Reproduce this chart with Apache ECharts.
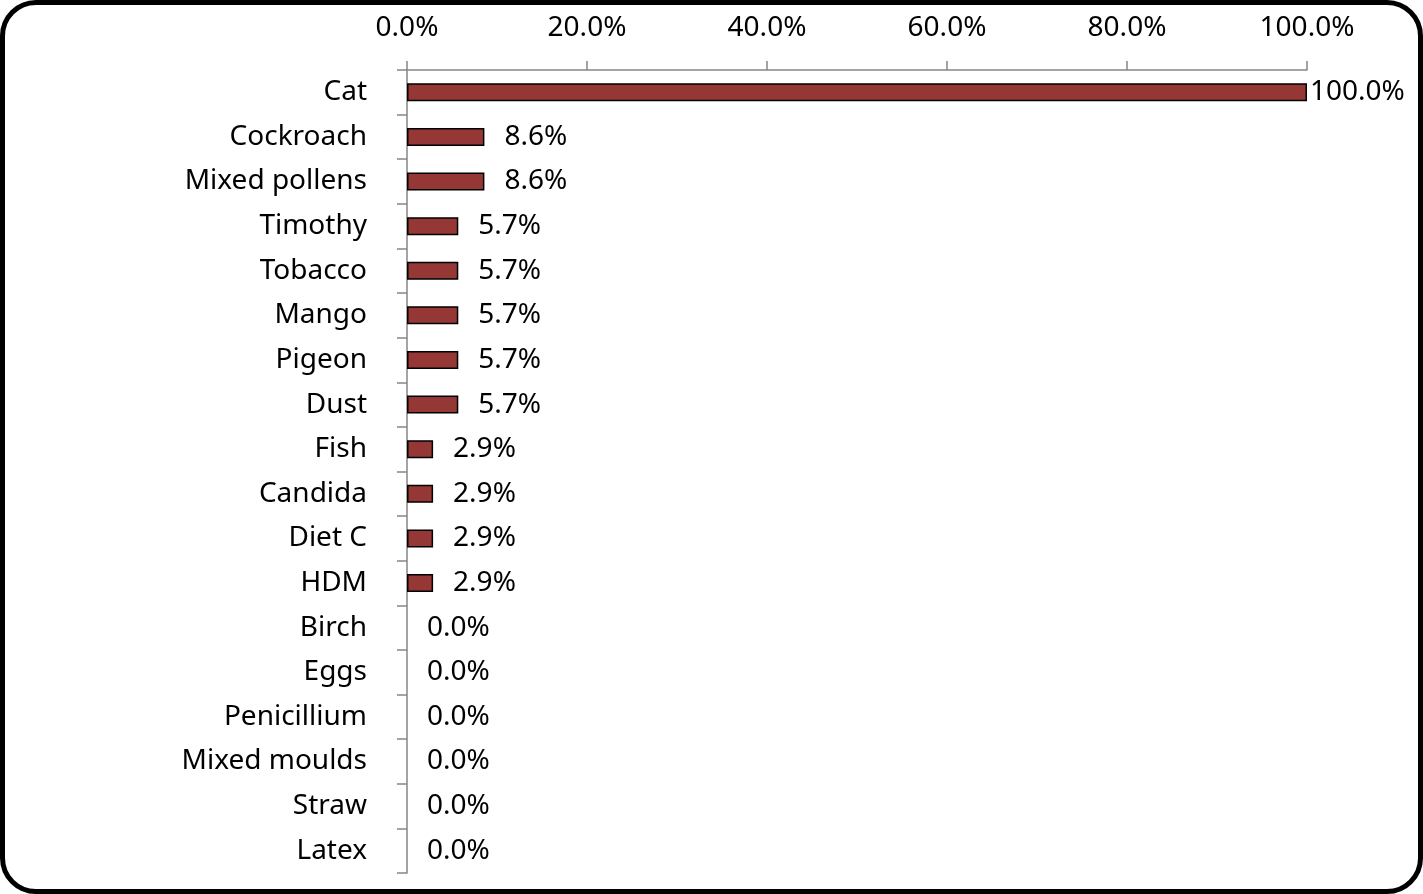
<!DOCTYPE html>
<html>
<head>
<meta charset="utf-8">
<script src="https://cdn.jsdelivr.net/npm/echarts@6/dist/echarts.min.js"></script>
<style>
  html, body { margin: 0; padding: 0; background: #fff; }
  #chart { width: 1423px; height: 894px; position: relative; }
  #frame {
    position: absolute; left: 0; top: 0; width: 1423px; height: 894px;
    box-sizing: border-box; border: 5px solid #000; border-radius: 36px;
    pointer-events: none;
  }
</style>
</head>
<body>
<div id="chart"></div>
<div id="frame"></div>
<script>
  // allergens, top to bottom
  const categories = ['Cat', 'Cockroach', 'Mixed pollens', 'Timothy', 'Tobacco', 'Mango', 'Pigeon', 'Dust',
    'Fish', 'Candida', 'Diet C', 'HDM', 'Birch', 'Eggs', 'Penicillium', 'Mixed moulds', 'Straw', 'Latex'];
  // percent positive
  const values = [100.0, 8.6, 8.6, 5.7, 5.7, 5.7, 5.7, 5.7, 2.9, 2.9, 2.9, 2.9, 0, 0, 0, 0, 0, 0];
  const tickLabels = ['0.0%', '20.0%', '40.0%', '60.0%', '80.0%', '100.0%'];

  const font = 'Noto Sans';
  const fs = 28;
  const myChart = echarts.init(document.getElementById('chart'));
  myChart.setOption({
    animation: false,
    grid: {left: 407, top: 70, width: 900, height: 803, containLabel: false},
    xAxis: {
      type: 'value',
      position: 'top',
      min: 0, max: 100, interval: 20,
      axisLine: {show: true, lineStyle: {color: '#868686', width: 1.5}},
      axisTick: {show: true, length: 9, lineStyle: {color: '#868686', width: 1.5}},
      splitLine: {show: false},
      axisLabel: {
        margin: 28, color: '#000', fontSize: fs, fontFamily: font,
        formatter: v => tickLabels[Math.round(v / 20)]
      }
    },
    yAxis: {
      type: 'category',
      inverse: true,
      data: categories,
      axisLine: {show: true, lineStyle: {color: '#868686', width: 1.5}},
      axisTick: {show: true, length: 10, lineStyle: {color: '#868686', width: 1.5}},
      axisLabel: {margin: 40, color: '#000', fontSize: fs, fontFamily: font}
    },
    series: [{
      type: 'bar',
      barWidth: 18,
      data: values.map((v, i) => {
        if (i === 0) return {value: v, label: {distance: 3}};
        if (v === 0) return {value: v, itemStyle: {borderWidth: 0}};
        return v;
      }),
      itemStyle: {color: '#953735', borderColor: '#000', borderWidth: 1.5},
      label: {
        show: true, position: 'right', distance: 20,
        color: '#000', fontSize: fs, fontFamily: font,
        formatter: p => p.value.toFixed(1) + '%'
      }
    }]
  });
</script>
</body>
</html>
